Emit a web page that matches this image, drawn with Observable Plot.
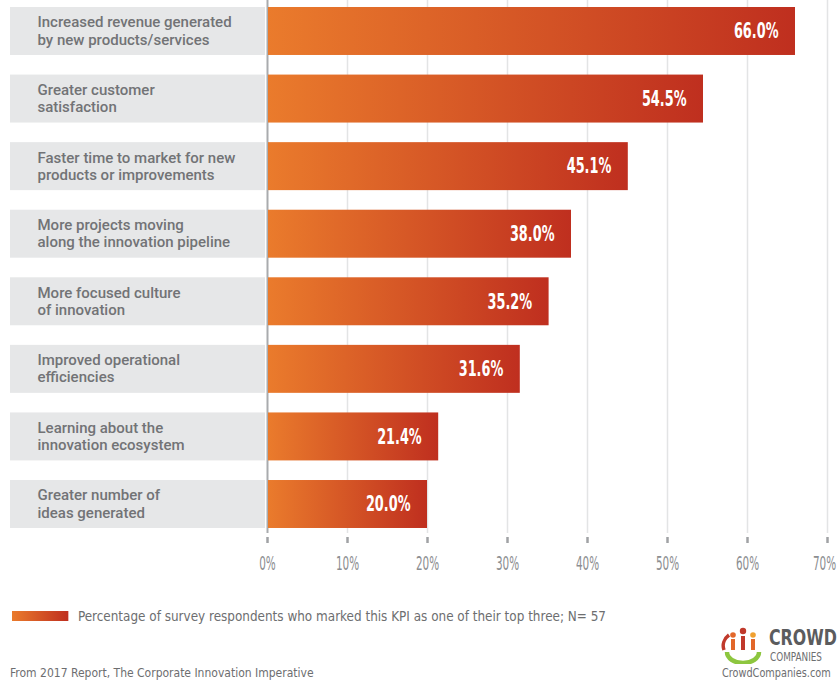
<!DOCTYPE html>
<html><head><meta charset="utf-8">
<script src="https://cdn.jsdelivr.net/npm/d3@7"></script>
<script src="https://cdn.jsdelivr.net/npm/@observablehq/plot@0.6"></script>
<style>
body{margin:0;background:#fff;}
#wrap{position:relative;width:838px;height:680px;overflow:hidden;background:#fff}
#chart{position:absolute;left:0;top:0}
.nar{font-family:"DejaVu Sans Condensed",sans-serif;white-space:nowrap;position:absolute;transform-origin:0 0;line-height:1}
#legend{left:12px;top:609px;font-size:14px;color:#6d6e70;display:flex;align-items:center;transform:scaleX(0.955)}
#legend .sw{display:inline-block;width:59px;height:10px;margin-right:10px;background:linear-gradient(to right,#ea7b2c,#bf2f1f)}
#source{left:10px;top:667px;font-size:12px;color:#6d6e70}
#logo-crowd{left:769px;top:627px;font-weight:bold;font-size:22px;color:#5b5c5e;transform:scaleX(0.8)}
#logo-comp{left:770px;top:651px;font-size:12px;color:#6d6e70;transform:scaleX(0.82)}
#logo-url{left:722px;top:667px;font-size:12px;color:#6d6e70;transform:scaleX(0.9)}
#logo-icon{position:absolute;left:721px;top:626px}
</style></head><body>
<div id="wrap">
<div id="chart"></div>
<div id="legend" class="nar"><span class="sw"></span><span id="legendText"></span></div>
<div id="source" class="nar"></div>
<svg id="logo-icon" width="44" height="38" viewBox="0 0 44 38">
  <path d="M6 26 A16 11 0 0 0 38 26" fill="none" stroke="#8dc63f" stroke-width="4.5"/>
  <circle cx="22" cy="5" r="3.2" fill="#c0392b"/>
  <rect x="20" y="10" width="4" height="14" fill="#c0392b"/>
  <circle cx="12" cy="9" r="2.8" fill="#e2672a"/>
  <rect x="10" y="13" width="4" height="11" fill="#e2672a"/>
  <circle cx="32" cy="9" r="2.8" fill="#f0a030"/>
  <rect x="30" y="13" width="4" height="11" fill="#e2672a"/>
  <path d="M3 24 A19 15 0 0 1 8 9" fill="none" stroke="#c0392b" stroke-width="3.5"/>
</svg>
<div id="logo-crowd" class="nar">CROWD</div>
<div id="logo-comp" class="nar">COMPANIES</div>
<div id="logo-url" class="nar">CrowdCompanies.com</div>
</div>
<script>
const categories = [
  "Increased revenue generated\nby new products/services",
  "Greater customer\nsatisfaction",
  "Faster time to market for new\nproducts or improvements",
  "More projects moving\nalong the innovation pipeline",
  "More focused culture\nof innovation",
  "Improved operational\nefficiencies",
  "Learning about the\ninnovation ecosystem",
  "Greater number of\nideas generated"
];
const values = [66.0, 54.5, 45.1, 38.0, 35.2, 31.6, 21.4, 20.0];
const tickValues = [0, 10, 20, 30, 40, 50, 60, 70];
const legendLabel = "Percentage of survey respondents who marked this KPI as one of their top three; N= 57";
const sourceLabel = "From 2017 Report, The Corporate Innovation Imperative";

const data = categories.map((c, i) => ({category: c, value: values[i]}));
const narrow = "'DejaVu Sans Condensed',sans-serif";

const plot = Plot.plot({
  width: 838,
  height: 585,
  marginLeft: 267,
  marginRight: 11,
  marginTop: 0,
  marginBottom: 48,
  style: {background: "transparent"},
  x: {domain: [0, 70], axis: null},
  y: {domain: categories, range: [7, 55 + 7 * 67.57], paddingInner: 0.29, paddingOuter: 0, round: false, axis: null},
  marks: [
    Plot.ruleX(tickValues, {x: d => d, insetBottom: 4, stroke: d => d === 0 ? "#a9abae" : "#e3e4e5", strokeWidth: d => d === 0 ? 2 : 1.5}),
    Plot.barX(categories, {y: d => d, x1: 0, x2: 0, insetLeft: -257, insetRight: 2, fill: "#e6e7e8"}),
    Plot.barX(data, {y: "category", x: "value", insetLeft: 1, fill: "url(#barGrad)"}),
    Plot.text(data, {y: "category", text: "category", frameAnchor: "left", textAnchor: "start", dx: -230, dy: -1, fill: "#727376", fontSize: 15, fontWeight: 500, fontFamily: "Roboto, sans-serif", lineHeight: 1.15}),
    Plot.text(data, {y: "category", x: "value", text: d => d.value.toFixed(1) + "%", textAnchor: "end", dx: -17, fill: "#ffffff", fontSize: 21, fontWeight: "bold", fontFamily: narrow}),
    Plot.axisX(tickValues, {tickSize: 6, tickPadding: 12, tickFormat: d => d + "%", stroke: "#a0a2a5", strokeWidth: 2.5, fill: "#8c8e91", fontSize: 20, fontFamily: narrow, label: null})
  ]
});

d3.select(plot).insert("defs", ":first-child").html(
  '<linearGradient id="barGrad" x1="0" x2="1" y1="0" y2="0">' +
  '<stop offset="0" stop-color="#ea7b2c"/><stop offset="1" stop-color="#bf2f1f"/></linearGradient>');

document.getElementById("chart").appendChild(plot);
document.getElementById("legendText").textContent = legendLabel;
document.getElementById("source").textContent = sourceLabel;

// condense the DIN-like labels (value labels and tick labels)
d3.select(plot).selectAll("text").each(function() {
  const t = this.textContent;
  let k = null;
  if (/^\d+\.\d%$/.test(t)) k = 0.68;
  else if (/^\d+%$/.test(t)) k = 0.58;
  if (k) {
    const w = this.getComputedTextLength();
    this.setAttribute("textLength", w * k);
    this.setAttribute("lengthAdjust", "spacingAndGlyphs");
  }
  // keep the last tick label inside the picture's right edge
  if (t === tickValues[tickValues.length - 1] + "%") {
    const prev = this.getAttribute("transform") || "";
    this.setAttribute("transform", prev + " translate(-3,0)");
  }
});
</script>
</body></html>
